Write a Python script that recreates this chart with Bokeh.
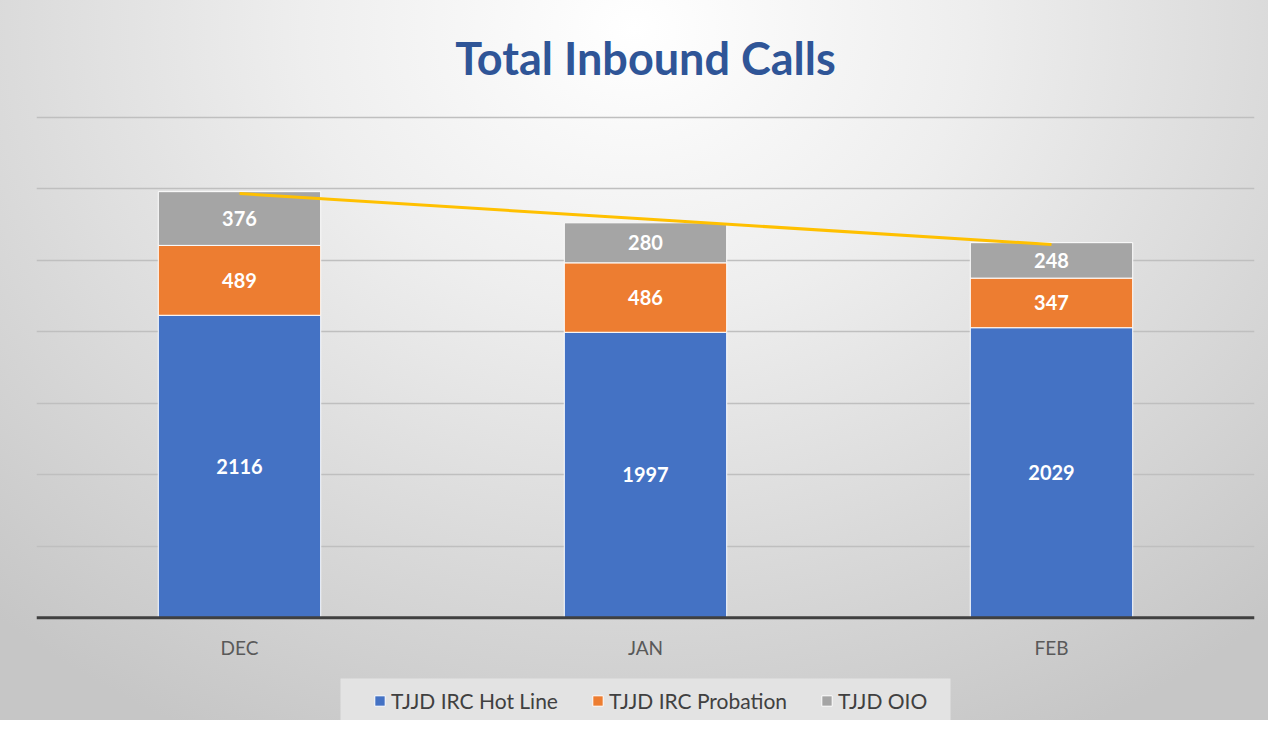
import numpy as np
from bokeh.plotting import figure
from bokeh.models import Range1d, FixedTicker, Legend, LegendItem, ColumnDataSource, Span, BoxAnnotation
from bokeh.core.properties import value
from bokeh.embed import file_html
from bokeh.resources import INLINE

months = ["DEC", "JAN", "FEB"]
hot_line = [2116, 1997, 2029]
probation = [489, 486, 347]
oio = [376, 280, 248]
series_names = ["TJJD IRC Hot Line", "TJJD IRC Probation", "TJJD OIO"]
y_ticks = [0, 500, 1000, 1500, 2000, 2500, 3000, 3500]
colors = ["#4472C4", "#ED7D31", "#A5A5A5"]
FONT = "Lato"

totals = [a + b + c for a, b, c in zip(hot_line, probation, oio)]
idx = np.arange(len(months))
coef = np.polyfit(idx, totals, 1)
trend = np.polyval(coef, idx)

# layout geometry (pixels)
W, H = 1268, 720
FRAME_TOP = 112
AXIS_Y = 617
PPU = (AXIS_Y - 116) / 3500.0          # pixels per value unit
y_end = 3500 + (116 - FRAME_TOP) / PPU
y_start = -(H - AXIS_Y) / PPU

def px_to_y(py):
    return (AXIS_Y - py) / PPU

src = ColumnDataSource(dict(month=months, hot=hot_line, prob=probation, oio=oio))

p = figure(x_range=months, y_range=Range1d(y_start, y_end), width=W, height=H,
           output_backend="svg", toolbar_location=None,
           min_border_left=36, min_border_right=W - 1254, min_border_top=FRAME_TOP, min_border_bottom=0)

p.background_fill_alpha = 0
p.border_fill_alpha = 0
p.outline_line_color = None
p.styles = {"background": "radial-gradient(ellipse 75% 110% at 50% 4%, #ffffff 0%, #eeeeee 35%, #c6c6c6 100%)"}

p.title.text = "Total Inbound Calls"
p.title.align = "center"
p.title.text_font = FONT
p.title.text_font_size = "45px"
p.title.text_font_style = "bold"
p.title.text_color = "#2F5597"
p.title.standoff = 57

p.xaxis.visible = False
p.yaxis.visible = False
p.ygrid.ticker = FixedTicker(ticks=y_ticks)
p.ygrid.grid_line_color = "#bfbfbf"
p.ygrid.grid_line_width = 1.5
p.xgrid.grid_line_color = None

renderers = p.vbar_stack(["hot", "prob", "oio"], x="month", width=0.4, color=colors,
                         source=src, line_color="white", line_width=1)

# segment labels
for vals, base in [(hot_line, [0, 0, 0]), (probation, hot_line),
                   (oio, [h + q for h, q in zip(hot_line, probation)])]:
    mids = [b + v / 2 for b, v in zip(base, vals)]
    p.text(x=months, y=mids, text=[str(v) for v in vals], text_align="center",
           text_baseline="middle", text_color="white", text_font=value(FONT),
           text_font_size="20px", text_font_style="bold")

p.line(x=months, y=trend, line_color="#FFC000", line_width=3)

# category axis
p.add_layout(Span(location=0, dimension="width", line_color="#404040", line_width=3))
p.text(x=months, y=[px_to_y(647)] * len(months), text=months, text_align="center",
       text_baseline="middle", text_color="#595959", text_font=value(FONT),
       text_font_size="19px")

# legend
p.add_layout(BoxAnnotation(left=(340 - 36) / 406.0, right=(950 - 36) / 406.0,
                           top=px_to_y(678), bottom=px_to_y(722),
                           fill_color="#e3e3e3", fill_alpha=1, line_alpha=0, level="underlay"))
legend = Legend(items=[LegendItem(label=n, renderers=[r]) for n, r in zip(series_names, renderers)],
                orientation="horizontal", location=(373 - 6 - 36, 1),
                background_fill_alpha=0, border_line_alpha=0,
                label_text_font=FONT, label_text_font_size="21px",
                label_text_color="#404040", glyph_width=13, glyph_height=13,
                spacing=33, padding=6, margin=0, label_standoff=5)
p.add_layout(legend, "center")

open("out.html", "w").write(file_html(p, INLINE))
